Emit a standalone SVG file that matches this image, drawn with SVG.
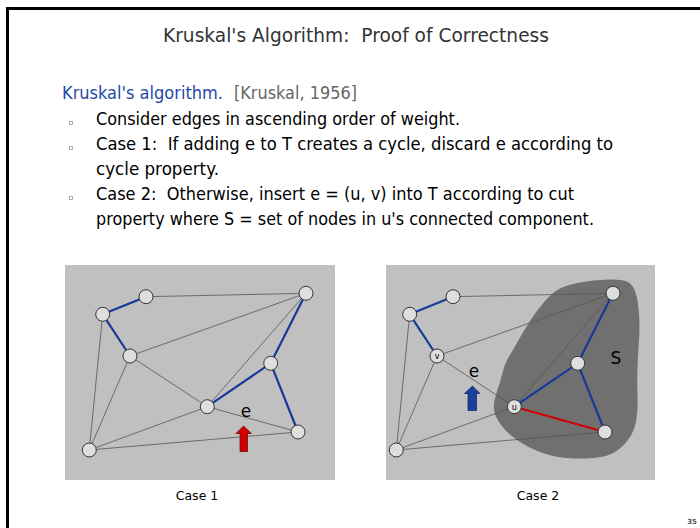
<svg xmlns="http://www.w3.org/2000/svg" width="700" height="528" viewBox="0 0 700 528">
<style>
.t{font-family:"DejaVu Sans","Liberation Sans",sans-serif;white-space:pre}
.body{font-size:18px;fill:#000}
.panel{fill:#c0c0c0}
.ge{stroke:#555;stroke-width:0.8;fill:none}
.be{stroke:#17399a;stroke-width:2.2;fill:none}
.re{stroke:#d00000;stroke-width:2.2;fill:none}
.nd{fill:#dedede;stroke:#333;stroke-width:1}
.bul{fill:none;stroke:#999;stroke-width:0.8}
.lbl{font-size:17px;fill:#000}
</style>
<rect x="0" y="0" width="700" height="528" fill="#fff"/>
<path d="M7.5,528 V8.5 H700" fill="none" stroke="#000" stroke-width="3"/>
<text class="t" x="356" y="42" font-size="20" fill="#333" text-anchor="middle" textLength="386" lengthAdjust="spacingAndGlyphs">Kruskal's Algorithm:  Proof of Correctness</text>
<text class="t" x="62" y="99" font-size="18" fill="#1f4aa8" textLength="161" lengthAdjust="spacingAndGlyphs">Kruskal's algorithm.</text>
<text class="t" x="234" y="99" font-size="18" fill="#666" textLength="123" lengthAdjust="spacingAndGlyphs">[Kruskal, 1956]</text>
<rect class="bul" x="69.5" y="121.5" width="3" height="3"/>
<rect class="bul" x="69.5" y="146.5" width="3" height="3"/>
<rect class="bul" x="69.5" y="196.5" width="3" height="3"/>
<text class="t body" x="96" y="125" textLength="364" lengthAdjust="spacingAndGlyphs">Consider edges in ascending order of weight.</text>
<text class="t body" x="96" y="150" textLength="517" lengthAdjust="spacingAndGlyphs">Case 1:  If adding e to T creates a cycle, discard e according to</text>
<text class="t body" x="96" y="175" textLength="123" lengthAdjust="spacingAndGlyphs">cycle property.</text>
<text class="t body" x="96" y="200" textLength="478" lengthAdjust="spacingAndGlyphs">Case 2:  Otherwise, insert e = (u, v) into T according to cut</text>
<text class="t body" x="96" y="225" textLength="498" lengthAdjust="spacingAndGlyphs">property where S = set of nodes in u's connected component.</text>

<rect class="panel" x="65" y="265" width="270" height="215"/>
<rect class="panel" x="386" y="265" width="269" height="215"/>
<path id="cut-S" d="M560,288.5 Q567,285 580,282.5 Q593,280 608,279.5 Q623,279 628,282 Q633,285 635.5,292.5 Q638,300 639,313.5 Q640,327 639,340 Q638,353 637.5,368 Q637,383 637.5,395 Q638,407 636.5,418.5 Q635,430 629,438.5 Q623,447 615,452 Q607,457 593.5,458 Q580,459 566.5,458 Q553,457 540,452 Q527,447 517,440 Q507,433 501,425 Q495,417 494,410 Q493,403 496.5,393 Q500,383 502.5,373 Q505,363 509,356.5 Q513,350 518,341 Q523,332 530,321 Q537,310 545,301 Q553,292 560,288.5 Z" fill="#707070"/>

<g id="connectors">
<g id="case1-edges">
<line class="ge" x1="146" y1="296.7" x2="306" y2="293.3"/>
<line class="ge" x1="130" y1="356" x2="306" y2="293.3"/>
<line class="ge" x1="306" y1="293.3" x2="207.3" y2="406.7"/>
<line class="ge" x1="130" y1="356" x2="207.3" y2="406.7"/>
<line class="ge" x1="102.7" y1="314.3" x2="89.3" y2="450"/>
<line class="ge" x1="130" y1="356" x2="89.3" y2="450"/>
<line class="ge" x1="207.3" y1="406.7" x2="89.3" y2="450"/>
<line class="ge" x1="89.3" y1="450" x2="298" y2="432"/>
<line class="ge" x1="207.3" y1="406.7" x2="298" y2="432"/>
<line class="be" x1="146" y1="296.7" x2="102.7" y2="314.3"/>
<line class="be" x1="102.7" y1="314.3" x2="130" y2="356"/>
<line class="be" x1="306" y1="293.3" x2="270.7" y2="363.3"/>
<line class="be" x1="270.7" y1="363.3" x2="207.3" y2="406.7"/>
<line class="be" x1="270.7" y1="363.3" x2="298" y2="432"/>
</g>
<g id="case2-edges">
<line class="ge" x1="453" y1="296.7" x2="613" y2="293.3"/>
<line class="ge" x1="437" y1="356" x2="613" y2="293.3"/>
<line class="ge" x1="613" y1="293.3" x2="514.3" y2="406.7"/>
<line class="ge" x1="437" y1="356" x2="514.3" y2="406.7"/>
<line class="ge" x1="409.7" y1="314.3" x2="396.3" y2="450"/>
<line class="ge" x1="437" y1="356" x2="396.3" y2="450"/>
<line class="ge" x1="514.3" y1="406.7" x2="396.3" y2="450"/>
<line class="ge" x1="396.3" y1="450" x2="605" y2="432"/>
<line class="be" x1="453" y1="296.7" x2="409.7" y2="314.3"/>
<line class="be" x1="409.7" y1="314.3" x2="437" y2="356"/>
<line class="be" x1="613" y1="293.3" x2="577.7" y2="363.3"/>
<line class="be" x1="577.7" y1="363.3" x2="514.3" y2="406.7"/>
<line class="be" x1="577.7" y1="363.3" x2="605" y2="432"/>
<line class="re" x1="514.3" y1="406.7" x2="605" y2="432"/>
</g>
</g>

<g id="l-a"><circle class="nd" cx="146" cy="296.7" r="7"/></g>
<g id="l-b"><circle class="nd" cx="102.7" cy="314.3" r="7"/></g>
<g id="l-c"><circle class="nd" cx="130" cy="356" r="7"/></g>
<g id="l-d"><circle class="nd" cx="306" cy="293.3" r="7"/></g>
<g id="l-e"><circle class="nd" cx="270.7" cy="363.3" r="7"/></g>
<g id="l-f"><circle class="nd" cx="207.3" cy="406.7" r="7"/></g>
<g id="l-g"><circle class="nd" cx="298" cy="432" r="7"/></g>
<g id="l-h"><circle class="nd" cx="89.3" cy="450" r="7"/></g>

<g id="r-a"><circle class="nd" cx="453" cy="296.7" r="7"/></g>
<g id="r-b"><circle class="nd" cx="409.7" cy="314.3" r="7"/></g>
<g id="r-v"><circle class="nd" cx="437" cy="356" r="7"/><text class="t" x="437" y="359" font-size="8" text-anchor="middle" fill="#000">v</text></g>
<g id="r-d"><circle class="nd" cx="613" cy="293.3" r="7"/></g>
<g id="r-e"><circle class="nd" cx="577.7" cy="363.3" r="7"/></g>
<g id="r-u"><circle class="nd" cx="514.3" cy="406.7" r="7"/><text class="t" x="514.3" y="409.7" font-size="8" text-anchor="middle" fill="#000">u</text></g>
<g id="r-g"><circle class="nd" cx="605" cy="432" r="7"/></g>
<g id="r-h"><circle class="nd" cx="396.3" cy="450" r="7"/></g>

<path d="M243.5,426 L251.5,433.5 L247.5,433.5 L247.5,451.5 L240,451.5 L240,433.5 L236,433.5 Z" fill="#d40000" stroke="#600" stroke-width="0.7"/>
<text class="t lbl" x="246" y="417" text-anchor="middle">e</text>
<path d="M472.5,386 L480,393.5 L476.5,393.5 L476.5,410.5 L468,410.5 L468,393.5 L464.5,393.5 Z" fill="#1a3f9f" stroke="#0a1f55" stroke-width="0.7"/>
<text class="t lbl" x="474" y="377" text-anchor="middle">e</text>
<text class="t lbl" x="616" y="364" text-anchor="middle">S</text>

<text class="t" x="197" y="500" font-size="12.5" text-anchor="middle" fill="#000">Case 1</text>
<text class="t" x="538" y="500" font-size="12.5" text-anchor="middle" fill="#000">Case 2</text>
<text class="t" x="697" y="524" font-size="7" font-weight="bold" text-anchor="end" fill="#555">35</text>
</svg>
